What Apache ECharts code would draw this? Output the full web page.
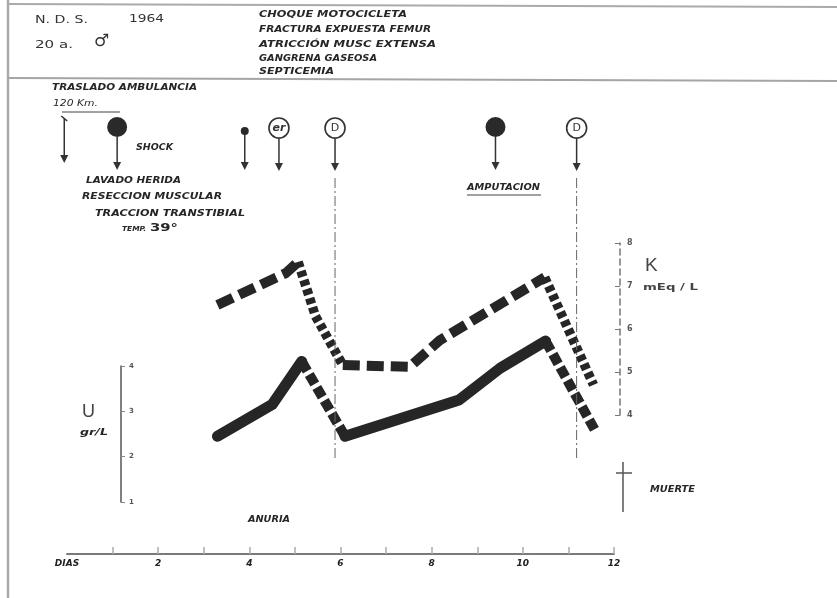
<!DOCTYPE html>
<html><head><meta charset="utf-8">
<script src="https://cdn.jsdelivr.net/npm/echarts@6/dist/echarts.min.js"></script>
<style>html,body{margin:0;padding:0;background:#fff}#c{width:837px;height:598px}</style>
</head><body><div id="c"></div>
<script>
// ---------------- data ----------------
const dayLabels = {0:'DIAS', 2:'2', 4:'4', 6:'6', 8:'8', 10:'10', 12:'12'};
const dayTickValues = [1,2,3,4,5,6,7,8,9,10,11,12];
const uDays = [3.3, 4.5, 5.15, 6.1, 8.6, 9.5, 10.5, 11.6];
const uVals = [2.45, 3.15, 4.1, 2.45, 3.25, 3.95, 4.55, 2.55];
const kDays = [3.3, 4.8, 5.07, 5.45, 6.05, 7.52, 8.18, 10.48, 11.55];
const kVals = [6.56, 7.3, 7.56, 6.3, 5.16, 5.12, 5.74, 7.2, 4.7];
const uRange = [1, 4];
const kRange = [4, 8];
const eventDays = [-0.06, 1.1, 3.9, 4.65, 5.88, 9.4, 11.18];
const eventKinds = ['arrow', 'filled', 'dot', 'er', 'D', 'filled', 'D'];

// ---------------- styles ----------------
const INK = '#262626';
const HAND = 'italic bold 9px "DejaVu Sans"';

function buildRuns(days, vals, xi, yi, normalStyle, downStyle) {
  const out = [];
  let cur = null, curDown = null;
  for (let i = 0; i < days.length - 1; i++) {
    const down = vals[i + 1] < vals[i] - 0.2;
    if (cur === null || down !== curDown) {
      cur = [[days[i], vals[i]]];
      curDown = down;
      out.push({down, pts: cur});
    }
    cur.push([days[i + 1], vals[i + 1]]);
  }
  return out.map(r => ({
    type: 'line', xAxisIndex: xi, yAxisIndex: yi, data: r.pts,
    symbol: 'none', clip: false, silent: true, animation: false,
    lineStyle: Object.assign({color: INK}, r.down ? downStyle : normalStyle)
  }));
}

const series = [].concat(
  buildRuns(kDays, kVals, 1, 1,
    {width: 10, type: [17, 7], cap: 'butt'},
    {width: 9.5, type: [6, 3.5], cap: 'butt'}),
  buildRuns(uDays, uVals, 0, 0,
    {width: 11, type: 'solid', cap: 'round', join: 'round'},
    {width: 10, type: [11, 4], cap: 'butt'})
);

const chart = echarts.init(document.getElementById('c'), null, {renderer: 'canvas'});
const option = {
  backgroundColor: '#ffffff',
  animation: false,
  textStyle: {fontFamily: '"DejaVu Sans"'},
  grid: [
    {left: 67, width: 547, top: 366, height: 136, outerBoundsMode: 'none', containLabel: false},
    {left: 67, width: 547, top: 243, height: 172, outerBoundsMode: 'none', containLabel: false}
  ],
  xAxis: [
    {type: 'value', gridIndex: 0, min: 0, max: 12, interval: 1, position: 'bottom', offset: 52,
     axisLine: {show: true, onZero: false, lineStyle: {color: '#7a7a7a', width: 2}},
     axisTick: {show: true, inside: true, length: 7, customValues: dayTickValues, lineStyle: {color: '#aaa', width: 1.5}},
     axisLabel: {show: true, margin: 5, color: '#222', fontSize: 9, fontWeight: 'bold', fontStyle: 'italic',
                 formatter: v => (dayLabels[v] !== undefined ? dayLabels[v] : '')},
     splitLine: {show: false}},
    {type: 'value', gridIndex: 1, min: 0, max: 12, show: false, axisLine: {onZero: false}, splitLine: {show: false}}
  ],
  yAxis: [
    {type: 'value', gridIndex: 0, min: uRange[0], max: uRange[1], interval: 1, position: 'left', offset: -54,
     axisLine: {show: true, onZero: false, lineStyle: {color: '#555', width: 1.5}},
     axisTick: {show: true, inside: true, length: 4, lineStyle: {color: '#888'}},
     axisLabel: {show: true, inside: true, margin: 8, fontSize: 7, fontWeight: 'bold', color: '#555'},
     splitLine: {show: false}},
    {type: 'value', gridIndex: 1, min: kRange[0], max: kRange[1], interval: 1, position: 'right', offset: 6,
     axisLine: {show: true, onZero: false, lineStyle: {color: '#777', width: 1.5, type: [6, 4]}},
     axisTick: {show: true, inside: true, length: 5, lineStyle: {color: '#777'}},
     axisLabel: {show: true, margin: 7, fontSize: 8, fontWeight: 'bold', color: '#555'},
     splitLine: {show: false}}
  ],
  series: series
};
chart.setOption(option);

// ---------------- annotations ----------------
const mctx = document.createElement('canvas').getContext('2d');
function T(text, x, y, w, font, fill) {
  font = font || HAND;
  mctx.font = font;
  const m = mctx.measureText(text).width;
  return {type: 'text', x: x, y: y, scaleX: w ? w / m : 1, silent: true, z: 10,
          style: {text: text, font: font, fill: fill || INK, align: 'left', verticalAlign: 'middle'}};
}
function L(x1, y1, x2, y2, stroke, lw, dash) {
  return {type: 'line', silent: true, z: 5, shape: {x1, y1, x2, y2},
          style: {stroke: stroke || INK, lineWidth: lw || 1.5, lineDash: dash || null}};
}
function arrowHead(x, tip) {
  return {type: 'polygon', silent: true, z: 6, shape: {points: [[x - 4, tip - 8], [x + 4, tip - 8], [x, tip]]},
          style: {fill: '#333'}};
}

const g = [];
// frame
g.push(L(8, 0, 8, 598, '#aaa', 2.5));
g.push(L(8, 4, 837, 7, '#aaa', 2));
g.push(L(8, 78, 837, 81, '#a5a5a5', 2));

// header
g.push(T('N. D. S.', 35, 20, 53, '11px "DejaVu Sans"', '#333'));
g.push(T('1964', 129, 19, 35, '11px "DejaVu Sans"', '#333'));
g.push(T('20 a.', 35, 45, 38, '11px "DejaVu Sans"', '#333'));
g.push(T('\u2642', 94, 42, 0, '17px "DejaVu Sans"', '#333'));
g.push(T('CHOQUE MOTOCICLETA', 259, 15, 148));
g.push(T('FRACTURA EXPUESTA FEMUR', 259, 30, 172));
g.push(T('ATRICCIÓN MUSC EXTENSA', 259, 45, 177));
g.push(T('GANGRENA GASEOSA', 259, 59, 118));
g.push(T('SEPTICEMIA', 259, 72, 75));

// left notes
g.push(T('TRASLADO AMBULANCIA', 52, 88, 145));
g.push(T('120 Km.', 53, 104, 45, 'italic 9px "DejaVu Sans"'));
g.push(L(62, 112, 120, 112, '#444', 1.2));
g.push(T('SHOCK', 136, 148, 37));
g.push(T('LAVADO HERIDA', 86, 181, 95));
g.push(T('RESECCION MUSCULAR', 82, 197, 140));
g.push(T('TRACCION TRANSTIBIAL', 95, 214, 150));
g.push(T('TEMP.', 122, 229, 24, 'italic bold 7px "DejaVu Sans"'));
g.push(T('39°', 150, 228, 28, 'bold 11px "DejaVu Sans"'));
g.push(T('AMPUTACION', 467, 188, 73, 'italic bold 8px "DejaVu Sans"'));
g.push(L(467, 195, 541, 195, '#444', 1.2));
g.push(T('ANURIA', 248, 520, 42, 'italic bold 8px "DejaVu Sans"'));
g.push(T('MUERTE', 650, 490, 45, 'italic bold 8px "DejaVu Sans"'));
g.push(L(623, 462, 623, 512, '#555', 1.5));
g.push(L(616, 473, 632, 473, '#555', 1.5));

// axis titles
g.push(T('K', 645, 266, 0, '19px "Liberation Sans"', '#444'));
g.push(T('mEq / L', 643, 288, 55, 'bold 9px "DejaVu Sans"', '#444'));
g.push(T('U', 82, 412, 0, '18px "Liberation Sans"', '#444'));
g.push(T('gr/L', 80, 433, 28));

// events (positioned from the day axis)
eventDays.forEach((d, i) => {
  const x = chart.convertToPixel({xAxisIndex: 0}, d);
  const k = eventKinds[i];
  if (k === 'arrow') {
    g.push(L(x, 118, x, 160, '#333', 1.5));
    g.push(L(x - 3, 116, x + 3, 121, '#333', 1.5));
    g.push(arrowHead(x, 163));
  } else if (k === 'filled') {
    g.push({type: 'circle', silent: true, z: 6, shape: {cx: x, cy: 127, r: 10}, style: {fill: '#2a2a2a'}});
    g.push(L(x, 137, x, 164, '#333', 1.5));
    g.push(arrowHead(x, 170));
  } else if (k === 'dot') {
    g.push({type: 'circle', silent: true, z: 6, shape: {cx: x, cy: 131, r: 4}, style: {fill: '#2a2a2a'}});
    g.push(L(x, 134, x, 164, '#333', 1.5));
    g.push(arrowHead(x, 170));
  } else {
    g.push({type: 'circle', silent: true, z: 6, shape: {cx: x, cy: 128, r: 10},
            style: {fill: '#fff', stroke: '#333', lineWidth: 1.6}});
    g.push({type: 'text', silent: true, z: 7, x: x, y: 128,
            style: {text: k, font: k === 'er' ? 'italic bold 11px "DejaVu Sans"' : '11px "DejaVu Sans"',
                    fill: '#333', align: 'center', verticalAlign: 'middle'}});
    g.push(L(x, 138, x, 164, '#333', 1.5));
    g.push(arrowHead(x, 171));
    if (k === 'D') g.push(L(x, 178, x, 458, '#666', 1, [10, 3, 2, 3]));
  }
});

chart.setOption({graphic: {elements: g}});
</script>
</body></html>
